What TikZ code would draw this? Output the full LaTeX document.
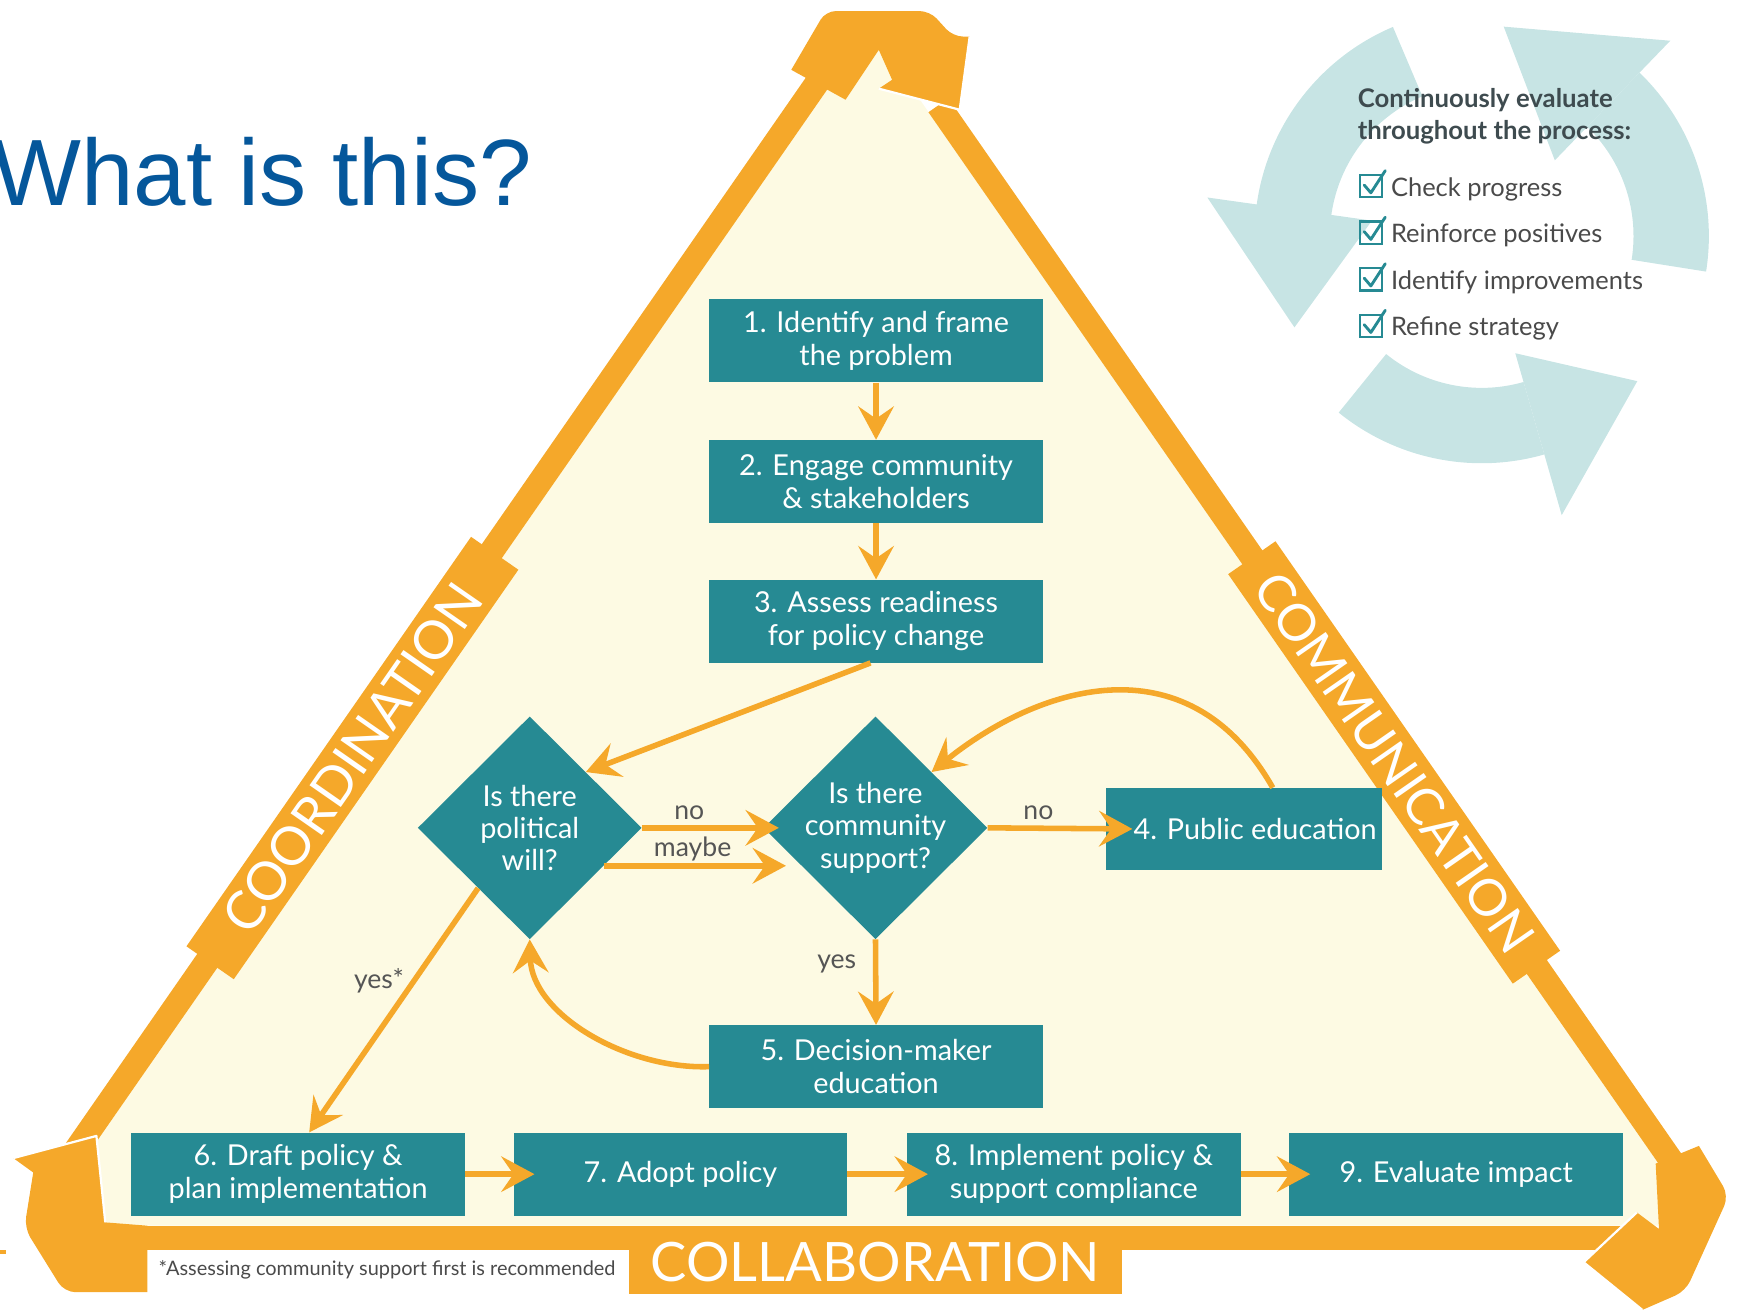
\documentclass[tikz,border=0pt]{standalone}
\usepackage{fontspec}
\setmainfont{Lato}
\newfontfamily\arialfont{Liberation Sans}
\usetikzlibrary{arrows.meta,calc,shapes.geometric}
\definecolor{org}{HTML}{F5A82A}
\definecolor{tealbox}{HTML}{268A93}
\definecolor{cream}{HTML}{FDFAE3}
\definecolor{cyc}{HTML}{C7E4E4}
\definecolor{titleblue}{HTML}{05579B}
\definecolor{lblgray}{HTML}{555555}
\definecolor{hdrgray}{HTML}{3E4B4F}
\definecolor{itemgray}{HTML}{4A4A4A}
\begin{document}
\begin{tikzpicture}[x=1pt,y=-1pt,
  box/.style={fill=tealbox,text=white,minimum width=301pt,minimum height=75pt,inner sep=0pt,align=center,font=\fontsize{26}{29.5}\selectfont},
  dia/.style={diamond,fill=tealbox,minimum width=202pt,minimum height=201pt,inner sep=0pt},
  dtext/.style={text=white,align=center,inner sep=0pt,font=\fontsize{26}{29}\selectfont},
  arr/.style={draw=org,line width=5pt,-{Stealth[length=30pt,width=32pt,inset=11pt]}},
  lbl/.style={text=lblgray,inner sep=0pt,font=\fontsize{24}{28}\selectfont},
  band/.style={draw=org,line width=22pt},
  side/.style={fill=org,text=white,minimum width=450pt,minimum height=52pt,inner sep=0pt},
  tipline/.style={draw=white,line width=2pt,line join=round},
  item/.style={anchor=base west,inner sep=0pt,text=itemgray,font=\fontsize{23}{27}\selectfont},
]
\useasboundingbox (0,0) rectangle (1567.4,1183);

% ---------- triangle ----------
\fill[cream] (785,25) -- (34.5,1106) -- (1535.5,1106) -- cycle;
\draw[band] (747.5,60) -- (53,1060);
\draw[band] (846.8,95) -- (1520.4,1065);
\draw[band] (110,1117) -- (1470,1117);

% corner arrows
\fill[org] (714,63) [rounded corners=9pt] -- (745,10) -- (839,10) -- (860,33) [sharp corners] -- (875,33) -- (866,99) -- (793,80) -- (805,72) -- (793,45) -- (763,90) -- cycle;
\draw[tipline] (875,33) -- (866,99) -- (793,80);
\fill[org] (1494,1050) -- (1533,1034) [rounded corners=10pt] -- (1560,1079) -- (1521,1165) [sharp corners] -- (1482,1182) -- (1429,1139) -- (1477,1094) -- (1497,1109) -- cycle;
\draw[tipline] (1482,1182) -- (1429,1139) -- (1477,1094);
\fill[org] (87,1025) -- (95,1103) -- (133,1106) -- (133,1166) [rounded corners=10pt] -- (58,1166) -- (22,1108) [sharp corners] -- (30,1058) -- (12,1045) -- cycle;
\draw[tipline] (12,1045) -- (87,1025) -- (95,1103);

% side labels
\node[side,rotate=55.2,font=\fontsize{48}{52}\selectfont] (coord) at (318,684) {COORDINATION};
\node[side,rotate=-55.2,font=\fontsize{46}{50}\selectfont] (comm) at (1258,688) {COMMUNICATION};
\node[fill=org,text=white,minimum width=444pt,minimum height=58pt,inner sep=0pt,font=\fontsize{49}{52}\selectfont] (collab) at (790,1139) {COLLABORATION};
\node[anchor=base west,inner sep=0pt,text=itemgray,font=\fontsize{18}{21}\selectfont] (note) at (143,1151) {*Assessing community support first is recommended};
\fill[org] (0,1128) rectangle (5,1131.5);

% title
\node[anchor=base west,inner sep=0pt,text=titleblue,font=\arialfont\fontsize{85}{90}\selectfont] (title) at (-7,185) {What is this?};

% ---------- evaluation cycle ----------
\coordinate (cc) at (1337,213);
\fill[cyc] ($(cc)+(-113:205)$) arc[start angle=-113,end angle=-173,radius=205] -- ($(cc)+(-173:137)$) arc[start angle=-173,end angle=-113,radius=137] -- cycle;
\fill[cyc] ($(cc)+(-172:100)$) -- ($(cc)+(-172:250)$) -- ($(cc)+(-206:188)$) -- cycle;
\fill[cyc] ($(cc)+(-231:205)$) arc[start angle=-231,end angle=-286,radius=205] -- ($(cc)+(-286:137)$) arc[start angle=-286,end angle=-231,radius=137] -- cycle;
\fill[cyc] ($(cc)+(-286:110)$) -- ($(cc)+(-286:262)$) -- ($(cc)+(-317:192)$) -- cycle;
\fill[cyc] ($(cc)+(9:205)$) arc[start angle=9,end angle=-46,radius=205] -- ($(cc)+(-46:137)$) arc[start angle=-46,end angle=9,radius=137] -- cycle;
\fill[cyc] ($(cc)+(-46:95)$) -- ($(cc)+(-46:245)$) -- ($(cc)+(-84:190)$) -- cycle;

\node[anchor=base west,inner sep=0pt,text=hdrgray,font=\bfseries\fontsize{23.2}{27}\selectfont] (hdr1) at (1225,97) {Continuously evaluate};
\node[anchor=base west,inner sep=0pt,text=hdrgray,font=\bfseries\fontsize{23.2}{27}\selectfont] (hdr2) at (1225,126) {throughout the process:};
\foreach \yy/\tx [count=\i] in {177/Check progress,219/Reinforce positives,261/Identify improvements,303/Refine strategy}{
  \node[item] (item\i) at (1255,\yy) {\tx};
  \draw[tealbox,line width=2.2pt] (1227,\yy-19) rectangle (1247,\yy+1);
  \draw[tealbox,line width=2.6pt,line cap=round,line join=round] (1231,\yy-10) -- (1237,\yy-3) -- (1250,\yy-23);
}

% ---------- flowchart ----------
\node[box] (b1) at (790.5,307.5) {1. Identify and frame\\the problem};
\node[box] (b2) at (790.5,434.5) {2. Engage community\\\& stakeholders};
\node[box] (b3) at (790.5,560.5) {3. Assess readiness\\for policy change};
\node[dia] (d1) at (478,747) {};
\node[dtext] (d1t) at (d1) {Is there\\political\\will?};
\node[dia] (d2) at (790,747) {};
\node[dtext] (d2t) at (d2) {Is there\\community\\support?};
\node[box,minimum width=249pt,minimum height=74pt] (b4) at (1122.5,748) {\hspace*{20pt}4. Public education};
\node[box] (b5) at (790.5,962.5) {5. Decision-maker\\education};
\node[box] (b6) at (269,1059.5) {6. Draft policy \&\\plan implementation};
\node[box] (b7) at (614,1059.5) {7. Adopt policy};
\node[box] (b8) at (969,1059.5) {8. Implement policy \&\\support compliance};
\node[box] (b9) at (1314,1059.5) {9. Evaluate impact};

\draw[arr] (b1.south) -- (b2.north);
\draw[arr] (b2.south) -- (b3.north);
\draw[arr] ([xshift=-5pt]b3.south) -- (d1.north east);
\draw[arr] (d1.east) -- ([xshift=14pt]d2.west);
\draw[arr] ($(d1.east)!0.34!(d1.south)$) -- ([xshift=-14pt]$(d2.west)!0.34!(d2.south)$);
\draw[arr] (d2.east) -- ([xshift=24pt]b4.west);
\draw[arr] (d2.south) -- (b5.north);
\draw[arr] ([xshift=26pt]b4.north) .. controls (1070,573) and (933,622) .. (d2.north east);
\draw[arr] (b5.west) .. controls (565,965) and (480,915) .. (d1.south);
\draw[arr] ($(d1.west)!0.54!(d1.south)$) -- ([xshift=10pt]b6.north);
\draw[arr] (b6.east) -- ([xshift=19pt]b7.west);
\draw[arr] (b7.east) -- ([xshift=19pt]b8.west);
\draw[arr] (b8.east) -- ([xshift=19pt]b9.west);

\node[lbl] (l1) at (622,733) {no};
\node[lbl] (l2) at (625,766) {maybe};
\node[lbl] (l3) at (937,733) {no};
\node[lbl] (l4) at (755,870) {yes};
\node[lbl] (l5) at (342,885) {yes*};
\end{tikzpicture}
\end{document}
